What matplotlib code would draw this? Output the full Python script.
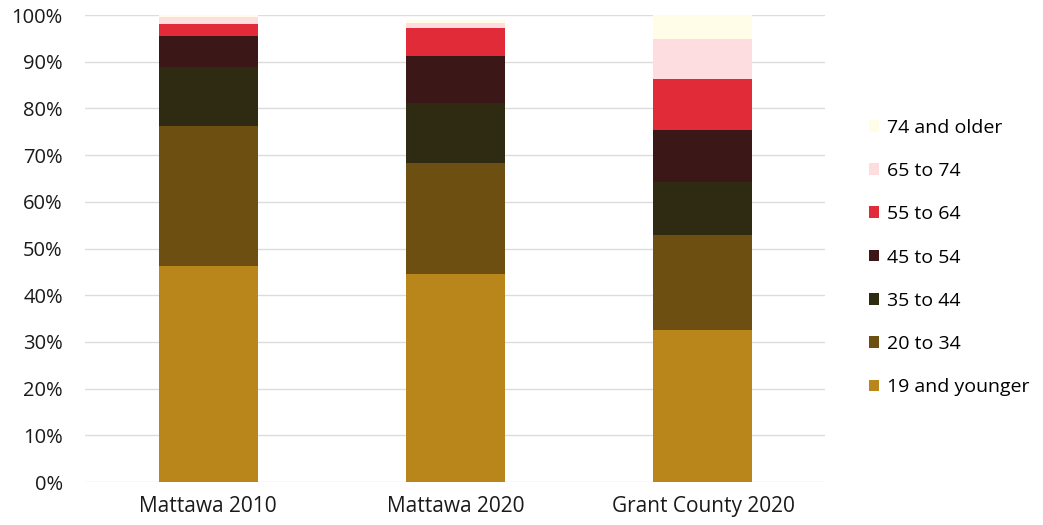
import numpy as np
import matplotlib
matplotlib.use("Agg")
import matplotlib.pyplot as plt
from matplotlib.patches import Patch

plt.rcParams['font.family'] = ['Open Sans', 'DejaVu Sans']

# Age distribution, share of population (%)
places = ["Mattawa 2010", "Mattawa 2020", "Grant County 2020"]
age_groups = ["19 and younger", "20 to 34", "35 to 44", "45 to 54",
              "55 to 64", "65 to 74", "74 and older"]
age_19_under = [46.2, 44.5, 32.6]
age_20_34 = [30.0, 23.8, 20.3]
age_35_44 = [12.7, 12.8, 11.3]
age_45_54 = [6.6, 10.2, 11.2]
age_55_64 = [2.6, 5.9, 11.0]
age_65_74 = [1.5, 1.1, 8.5]
age_74_over = [0.4, 0.6, 5.1]
colors = ["#B8861B", "#6E4F12", "#2F2B12", "#3B1718",
          "#E22B38", "#FDDDE0", "#FFFCE8"]
yticks = np.arange(0, 101, 10)

series = [age_19_under, age_20_34, age_35_44, age_45_54,
          age_55_64, age_65_74, age_74_over]

fig = plt.figure(figsize=(10.43, 5.25), dpi=100)
ax = fig.add_axes([0.0815, 0.0819, 0.7095, 0.8895])

x = np.arange(len(places))
bottom = np.zeros(len(places))
for vals, col, lab in zip(series, colors, age_groups):
    ax.bar(x, vals, width=0.40, bottom=bottom, color=col, label=lab, zorder=2)
    bottom += np.array(vals)

ax.set_ylim(0, 100)
ax.set_xlim(-0.497, 2.493)
ax.set_yticks(yticks)
ax.set_yticklabels([f"{v}%" for v in yticks])
ax.set_xticks(x)
ax.set_xticklabels(places)
ax.tick_params(axis='both', length=0, colors="#1a1a1a")
ax.tick_params(axis='y', labelsize=14.5, pad=16)
ax.tick_params(axis='x', labelsize=15, pad=10)
ax.yaxis.grid(True, color="#dcdcdc", linewidth=1.0, zorder=0)
ax.set_axisbelow(True)
for s in ax.spines.values():
    s.set_visible(False)

handles = [Patch(facecolor=c, label=l) for c, l in zip(colors, age_groups)][::-1]
fig.legend(handles=handles, loc='center left', bbox_to_anchor=(0.816, 0.5095),
           frameon=False, fontsize=14, handlelength=0.55, handleheight=0.55,
           handletextpad=0.4, labelspacing=1.3)

fig.savefig("out.png", dpi=100)
